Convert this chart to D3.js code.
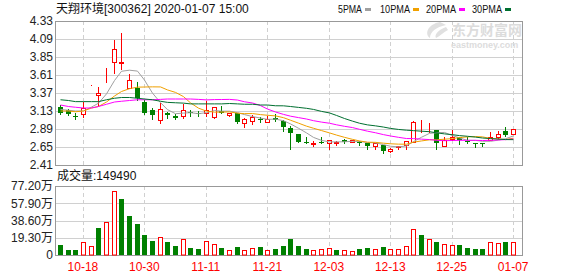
<!DOCTYPE html>
<html>
<head>
<meta charset="utf-8">
<script src="https://cdn.jsdelivr.net/npm/d3@7"></script>
<style>
  body { margin: 0; background: #fff; }
  svg { display: block; font-family: "Liberation Sans", "Noto Sans CJK SC", sans-serif; }
</style>
</head>
<body>
<svg id="chart" width="578" height="276"></svg>
<script>
const dates = [
  "10-15","10-16","10-17","10-18","10-21","10-22","10-23","10-24","10-25","10-28","10-29","10-30","10-31",
  "11-01","11-04","11-05","11-06","11-07","11-08","11-11","11-12","11-13","11-14","11-15","11-18","11-19",
  "11-20","11-21","11-22","11-25","11-26","11-27","11-28","11-29",
  "12-02","12-03","12-04","12-05","12-06","12-09","12-10","12-11","12-12","12-13","12-16","12-17","12-18",
  "12-19","12-20","12-23","12-24","12-25","12-26","12-27","12-30","12-31",
  "01-02","01-03","01-06","01-07"
];
const opens = [3.19,3.15,3.07,3.09,3.48,3.35,3.70,3.79,3.77,3.44, 3.44,3.25,3.14,3.01,3.11,3.07,3.07,3.12,3.11,3.11,
  3.05,3.13,3.08,3.10,2.97,3.00,3.03,2.99,3.04,3.00, 2.90,2.82,2.72,2.69,2.72,2.71,2.71,2.75,2.72,2.72,
  2.70,2.67,2.68,2.60,2.65,2.68,2.72,2.89,2.89,2.88, 2.67,2.76,2.78,2.73,2.71,2.71,2.75,2.78,2.86,2.83];
const highs = [3.21,3.16,3.10,3.25,3.48,3.45,3.71,4.08,4.17,3.62, 3.52,3.28,3.17,3.24,3.12,3.09,3.23,3.14,3.13,3.26,
  3.18,3.20,3.11,3.10,3.04,3.08,3.05,3.06,3.09,3.01, 2.93,2.82,2.79,2.73,2.78,2.74,2.73,2.76,2.75,2.73,
  2.70,2.70,2.68,2.64,2.67,2.73,3.00,3.01,2.97,2.88, 2.78,2.88,2.78,2.78,2.71,2.71,2.85,2.86,2.91,2.89];
const lows = [3.09,3.08,3.03,3.05,3.48,3.20,3.52,3.64,3.69,3.44, 3.28,3.09,3.03,2.97,3.04,3.02,3.04,3.07,3.07,3.07,
  3.04,3.10,3.07,2.97,2.91,2.96,2.99,2.99,3.00,2.87, 2.63,2.72,2.71,2.66,2.71,2.63,2.68,2.70,2.72,2.68,
  2.62,2.62,2.57,2.59,2.63,2.62,2.72,2.85,2.85,2.63, 2.67,2.74,2.69,2.71,2.65,2.66,2.75,2.76,2.80,2.83];
const closes = [3.11,3.09,3.06,3.17,3.48,3.37,3.71,3.95,3.79,3.55, 3.31,3.11,3.08,3.16,3.08,3.04,3.15,3.11,3.09,3.15,
  3.18,3.11,3.11,2.99,3.02,3.05,3.01,3.02,3.01,2.91, 2.84,2.72,2.71,2.71,2.71,2.74,2.72,2.72,2.74,2.70,
  2.67,2.70,2.60,2.63,2.66,2.73,2.99,2.89,2.89,2.70, 2.75,2.78,2.74,2.72,2.70,2.69,2.78,2.82,2.81,2.89];
const volumes = [112000,56000,56000,142000,104000,302000,369000,712000,627000,436000,
  347000,224000,157000,205000,145000,101000,175000,78000,65000,157000,
  123000,78000,56000,86000,56000,75000,86000,56000,63000,101000,
  179000,101000,63000,56000,63000,75000,56000,56000,45000,63000,
  75000,63000,86000,63000,63000,97000,287000,220000,175000,142000,
  120000,108000,108000,75000,63000,63000,142000,131000,142000,149490];
const ma5 = [3.15,3.14,3.13,3.13,3.182,3.234,3.358,3.536,3.66,3.674, 3.662,3.542,3.368,3.242,3.148,3.094,3.102,3.108,3.094,3.108,
  3.136,3.128,3.128,3.108,3.082,3.056,3.036,3.018,3.022,3.00, 2.958,2.90,2.838,2.778,2.738,2.718,2.718,2.72,2.726,2.724,
  2.71,2.706,2.682,2.66,2.652,2.664,2.722,2.78,2.832,2.84, 2.844,2.802,2.772,2.738,2.738,2.726,2.726,2.742,2.76,2.798];
const ma10 = [3.13,3.13,3.12,3.13,3.17,3.19,3.25,3.33,3.39,3.428, 3.448,3.45,3.452,3.451,3.411,3.378,3.322,3.238,3.168,3.128,
  3.115,3.115,3.118,3.101,3.095,3.096,3.082,3.073,3.065,3.041, 3.007,2.968,2.928,2.90,2.869,2.838,2.809,2.779,2.752,2.731,
  2.714,2.712,2.701,2.693,2.688,2.687,2.714,2.731,2.746,2.746, 2.754,2.762,2.776,2.785,2.789,2.785,2.764,2.757,2.749,2.768];
const ma20 = [3.21,3.19,3.18,3.17,3.17,3.19,3.22,3.25,3.26,3.27, 3.28,3.28,3.28,3.285,3.29,3.29,3.29,3.29,3.285,3.278,
  3.282,3.283,3.285,3.276,3.253,3.237,3.202,3.156,3.117,3.085, 3.061,3.042,3.023,3.001,2.982,2.967,2.946,2.926,2.909,2.886,
  2.861,2.84,2.815,2.797,2.779,2.763,2.762,2.755,2.749,2.739, 2.734,2.737,2.739,2.739,2.739,2.736,2.739,2.744,2.748,2.757];
const ma30 = [3.28,3.27,3.255,3.255,3.255,3.255,3.28,3.30,3.31,3.31, 3.30,3.29,3.28,3.26,3.245,3.24,3.235,3.225,3.225,3.225,
  3.225,3.225,3.23,3.225,3.22,3.22,3.21,3.21,3.20,3.199, 3.19,3.178,3.166,3.151,3.125,3.104,3.071,3.03,2.995,2.967,
  2.945,2.932,2.916,2.898,2.884,2.874,2.868,2.861,2.854,2.839, 2.825,2.814,2.802,2.793,2.782,2.77,2.762,2.756,2.749,2.748];

const priceTicks = [2.41,2.65,2.89,3.13,3.37,3.61,3.85,4.09,4.33];
const volTicks = [0,193000,386000,579000,772000];
const volTickLabels = ["0","19.30万","38.60万","57.90万","77.20万"];
const xTicks = ["10-18","10-30","11-11","11-21","12-03","12-13","12-25","01-07"];
const maNames = ["5PMA","10PMA","20PMA","30PMA"];
const maColors = ["#a0a0a0","#f0a000","#ff00ff","#006f30"];
const title = "天翔环境[300362] 2020-01-07 15:00";
const volLabel = "成交量:149490";

const svg = d3.select("#chart");
const left = 55, right = 522;
const pTop = 21, pBottom = 165, vTop = 186, vBottom = 255;
const red = "#ff0000", green = "#008000", grid = "#d0d0d0", frame = "#999";

const x = d3.scaleBand().domain(dates).range([56, 517]);
const cx = d => Math.round(x(d) + x.bandwidth() / 2) + 0.5;
const y = d3.scaleLinear().domain([2.41, 4.33]).range([pBottom, pTop]);
const yv = d3.scaleLinear().domain([0, 772000]).range([vBottom, vTop]);
const crisp = v => Math.round(v) + 0.5;

const data = dates.map((d, i) => ({
  date: d, open: opens[i], high: highs[i], low: lows[i], close: closes[i], vol: volumes[i],
  up: closes[i] >= opens[i],
  volUp: i === 0 ? closes[i] >= opens[i] : closes[i] >= closes[i - 1]
}));

// grid
svg.append("g").selectAll("line").data(priceTicks.slice(1, -1)).enter().append("line")
  .attr("x1", left).attr("x2", right)
  .attr("y1", d => crisp(y(d))).attr("y2", d => crisp(y(d)))
  .attr("stroke", grid);
svg.append("g").selectAll("line").data(volTicks.slice(1, -1)).enter().append("line")
  .attr("x1", left).attr("x2", right)
  .attr("y1", d => crisp(yv(d))).attr("y2", d => crisp(yv(d)))
  .attr("stroke", grid);
[[pTop, pBottom], [vTop, vBottom]].forEach(([t, b]) => {
  svg.append("g").selectAll("line").data(xTicks).enter().append("line")
    .attr("x1", d => cx(d)).attr("x2", d => cx(d))
    .attr("y1", t).attr("y2", b)
    .attr("stroke", grid).attr("stroke-dasharray", "4,3");
});

// watermark
const wm = svg.append("g").attr("fill", "#dcdcdc").attr("font-weight", "bold");
wm.append("path")
  .attr("d", "M440,22 C428,24 424,34 430,38 C430,32 436,27 446,25 Z M446,27 C438,30 434,35 436,38 C440,36 444,32 448,30 Z")
  .attr("fill", "#e0e0e0");
wm.append("text").attr("x", 452).attr("y", 35).attr("font-size", 14).text("东方财富网");
wm.append("text").attr("x", 451).attr("y", 48).attr("font-size", 9).text("eastmoney.com");

// frames
svg.append("rect").attr("x", left + 0.5).attr("y", pTop + 0.5).attr("width", right - left).attr("height", pBottom - pTop)
  .attr("fill", "none").attr("stroke", frame);
svg.append("rect").attr("x", left + 0.5).attr("y", vTop + 0.5).attr("width", right - left).attr("height", vBottom - vTop)
  .attr("fill", "none").attr("stroke", frame);

// candles
const candles = svg.append("g").selectAll("g").data(data).enter().append("g");
candles.append("line")
  .attr("x1", d => cx(d.date)).attr("x2", d => cx(d.date))
  .attr("y1", d => Math.round(y(d.high))).attr("y2", d => Math.round(y(d.low)) + 1)
  .attr("stroke", d => d.up ? red : green);
candles.append("rect")
  .attr("x", d => d.up ? cx(d.date) - 2 : cx(d.date) - 2.5)
  .attr("y", d => d.up ? crisp(y(d.close)) : Math.round(y(d.open)))
  .attr("width", d => d.up ? 4 : 5)
  .attr("height", d => {
    const h = Math.round(y(Math.min(d.open, d.close))) - Math.round(y(Math.max(d.open, d.close)));
    return d.up ? Math.max(h, 0) : Math.max(h, 1);
  })
  .attr("fill", d => d.up ? "#fff" : green)
  .attr("stroke", d => d.up ? red : "none");

// moving averages
const maLine = d3.line().x((v, i) => cx(dates[i])).y(v => y(v));
[ma5, ma10, ma20, ma30].forEach((arr, k) => {
  svg.append("path").datum(arr).attr("d", maLine)
    .attr("fill", "none").attr("stroke", maColors[k]).attr("stroke-width", 1);
});

// volume bars
svg.append("g").selectAll("rect").data(data).enter().append("rect")
  .attr("x", d => d.volUp ? cx(d.date) - 2 : cx(d.date) - 2.5)
  .attr("y", d => d.volUp ? crisp(yv(d.vol)) : Math.round(yv(d.vol)))
  .attr("width", d => d.volUp ? 4 : 5)
  .attr("height", d => d.volUp ? vBottom - crisp(yv(d.vol)) : vBottom - Math.round(yv(d.vol)))
  .attr("fill", d => d.volUp ? "#fff" : green)
  .attr("stroke", d => d.volUp ? red : "none");

// axes
const yAxis = svg.append("g").attr("transform", `translate(${left},0)`)
  .call(d3.axisLeft(y).tickValues(priceTicks).tickFormat(d3.format(".2f")).tickSize(0).tickPadding(2));
const vAxis = svg.append("g").attr("transform", `translate(${left},0)`)
  .call(d3.axisLeft(yv).tickValues(volTicks).tickFormat((d, i) => volTickLabels[i]).tickSize(0).tickPadding(2));
const xAxis = svg.append("g").attr("transform", `translate(0,${vBottom})`)
  .call(d3.axisBottom(x).tickValues(xTicks).tickSize(0).tickPadding(7));
[yAxis, vAxis, xAxis].forEach(g => {
  g.select(".domain").remove();
  g.selectAll("text").attr("font-family", "Liberation Sans, Noto Sans CJK SC, sans-serif").attr("font-size", 12);
});
yAxis.selectAll("text").attr("fill", "#222");
vAxis.selectAll("text").attr("fill", "#222");
xAxis.selectAll("text").attr("fill", red);

// title, legend, volume label
svg.append("text").attr("x", 56).attr("y", 13).attr("font-size", 12).attr("fill", "#111").text(title);
const legX = [338, 380, 426, 472];
const legW = [24, 30, 30, 30];
maNames.forEach((n, k) => {
  svg.append("text").attr("x", legX[k]).attr("y", 12.5).attr("font-size", 11)
    .attr("textLength", legW[k]).attr("lengthAdjust", "spacingAndGlyphs").attr("fill", "#111").text(n);
  svg.append("rect").attr("x", legX[k] + legW[k] + 3).attr("y", 8).attr("width", 6).attr("height", 3)
    .attr("fill", maColors[k]);
});
svg.append("text").attr("x", 57).attr("y", 180).attr("font-size", 12).attr("fill", "#111").text(volLabel);
</script>
</body>
</html>
